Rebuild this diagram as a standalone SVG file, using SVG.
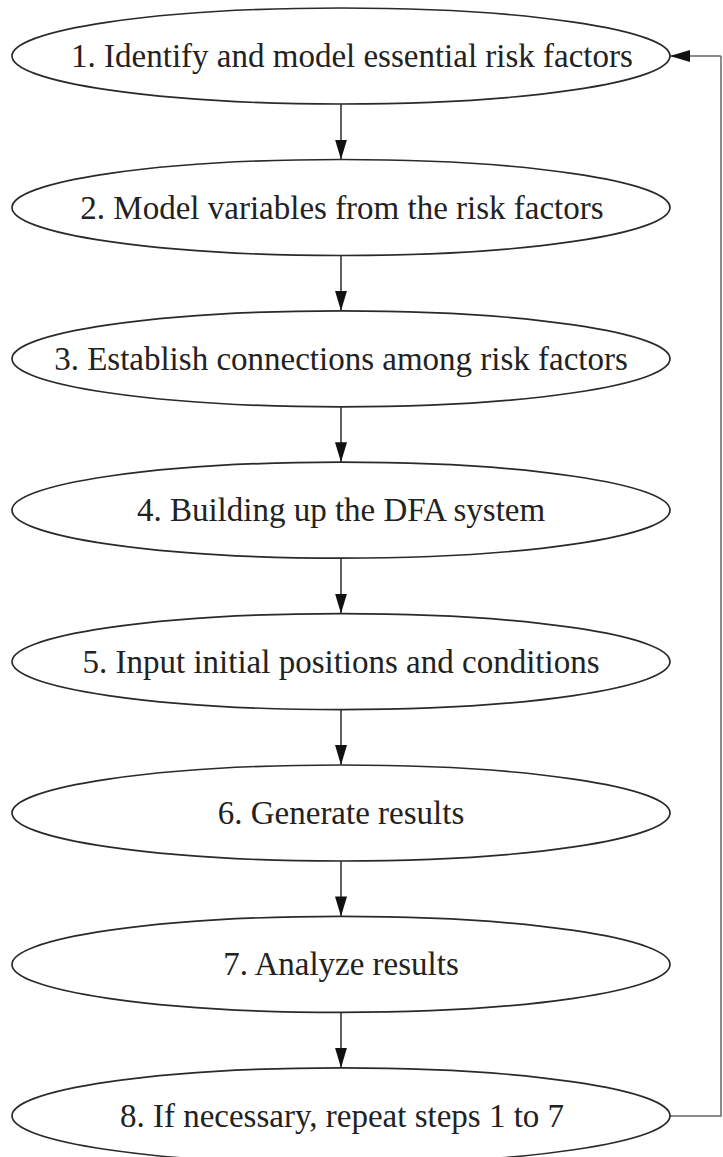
<svg xmlns="http://www.w3.org/2000/svg" width="723" height="1157" viewBox="0 0 723 1157">
  <style>
    .node ellipse { fill: #ffffff; stroke: #2a2a2a; stroke-width: 1.7; }
    .node text { font-family: "Liberation Serif", "Times New Roman", serif; font-size: 33px; fill: #222222; text-anchor: middle; }
    .edge { fill: none; stroke: #444444; stroke-width: 1.7; }
    .loop { fill: none; stroke: #666666; stroke-width: 1.5; }
  </style>
  <defs>
    <marker id="arrow" viewBox="0 0 20 12" refX="20" refY="6" markerWidth="20" markerHeight="12" markerUnits="userSpaceOnUse" orient="auto">
      <path d="M0,0 L20,6 L0,12 Z" fill="#111111"/>
    </marker>
  </defs>
  <rect width="723" height="1157" fill="#ffffff"/>

  <!-- connectors -->
  <g id="connectors">
    <line class="edge" x1="341" y1="104" x2="341" y2="159.5" marker-end="url(#arrow)"/>
    <line class="edge" x1="341" y1="255.5" x2="341" y2="310.8" marker-end="url(#arrow)"/>
    <line class="edge" x1="341" y1="406.8" x2="341" y2="462.2" marker-end="url(#arrow)"/>
    <line class="edge" x1="341" y1="558.2" x2="341" y2="613.6" marker-end="url(#arrow)"/>
    <line class="edge" x1="341" y1="709.6" x2="341" y2="765" marker-end="url(#arrow)"/>
    <line class="edge" x1="341" y1="861" x2="341" y2="916.4" marker-end="url(#arrow)"/>
    <line class="edge" x1="341" y1="1012.4" x2="341" y2="1067.8" marker-end="url(#arrow)"/>
    <!-- feedback loop from step 8 back to step 1 -->
    <polyline class="loop" points="669,1116 721,1116 721,56"/>
    <line class="loop" x1="721" y1="56" x2="670" y2="56" marker-end="url(#arrow)"/>
  </g>

  <g id="step1" class="node">
    <ellipse cx="341" cy="56" rx="329" ry="48"/>
    <text x="352" y="67">1. Identify and model essential risk factors</text>
  </g>
  <g id="step2" class="node">
    <ellipse cx="341" cy="207.5" rx="329" ry="48"/>
    <text x="342" y="218.5">2. Model variables from the risk factors</text>
  </g>
  <g id="step3" class="node">
    <ellipse cx="341" cy="358.8" rx="329" ry="48"/>
    <text x="341" y="369.8">3. Establish connections among risk factors</text>
  </g>
  <g id="step4" class="node">
    <ellipse cx="341" cy="510.2" rx="329" ry="48"/>
    <text x="341" y="521.2">4. Building up the DFA system</text>
  </g>
  <g id="step5" class="node">
    <ellipse cx="341" cy="661.6" rx="329" ry="48"/>
    <text x="341" y="672.6">5. Input initial positions and conditions</text>
  </g>
  <g id="step6" class="node">
    <ellipse cx="341" cy="813" rx="329" ry="48"/>
    <text x="341" y="824">6. Generate results</text>
  </g>
  <g id="step7" class="node">
    <ellipse cx="341" cy="964.4" rx="329" ry="48"/>
    <text x="341" y="975.4">7. Analyze results</text>
  </g>
  <g id="step8" class="node">
    <ellipse cx="341" cy="1115.8" rx="329" ry="48"/>
    <text x="342" y="1126.8">8. If necessary, repeat steps 1 to 7</text>
  </g>
</svg>
